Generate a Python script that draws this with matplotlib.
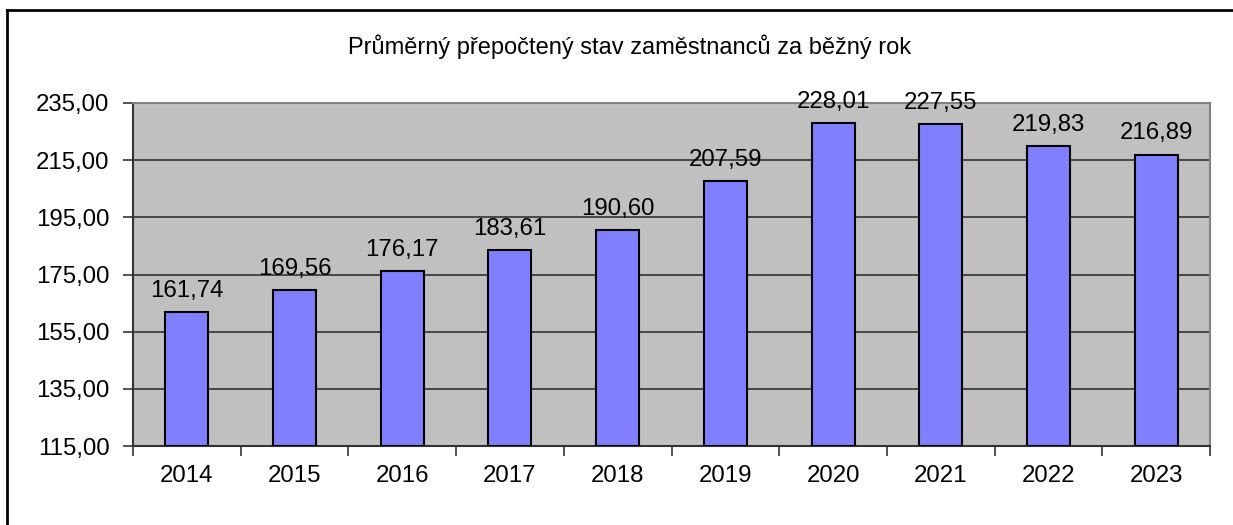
import matplotlib
matplotlib.use("Agg")
import matplotlib.pyplot as plt
from matplotlib.lines import Line2D

years = ["2014", "2015", "2016", "2017", "2018", "2019", "2020", "2021", "2022", "2023"]
values = [161.74, 169.56, 176.17, 183.61, 190.60, 207.59, 228.01, 227.55, 219.83, 216.89]
title = "Průměrný přepočtený stav zaměstnanců za běžný rok"
yticks = [115, 135, 155, 175, 195, 215, 235]

plt.rcParams['font.family'] = ['Liberation Sans', 'DejaVu Sans']

W, H = 1233, 525
fig = plt.figure(figsize=(W/100, H/100), dpi=100)
ax = fig.add_axes([133/W, 1-446/H, (1210-133)/W, (446-103)/H])

FS = 17.3
x = list(range(len(years)))
ax.set_facecolor('#C0C0C0')
ax.bar(x, [v - 115 for v in values], bottom=115, width=0.4, color='#8080FF',
       edgecolor='black', linewidth=1.5, zorder=3)
for xi, v in zip(x, values):
    ax.text(xi, v + 3.6, f"{v:.2f}".replace('.', ','), ha='center', va='bottom',
            fontsize=FS, color='black', zorder=4, clip_on=False)

ax.set_xlim(-0.5, len(years) - 0.5)
ax.set_ylim(115, 235)
ax.set_yticks(yticks)
ax.set_yticklabels([f"{t:.2f}".replace('.', ',') for t in yticks], fontsize=FS)
ax.yaxis.grid(True, color='#333333', linewidth=1.2, zorder=1)
ax.set_axisbelow(True)

ax.set_xticks(x)
ax.set_xticklabels(years, fontsize=FS)
ax.tick_params(axis='x', length=0, pad=14)
ax.set_xticks([i - 0.5 for i in range(len(years) + 1)], minor=True)
ax.tick_params(axis='x', which='minor', length=7, width=1.2, color='#333333')
ax.tick_params(axis='y', length=7, width=1.2, color='#333333', pad=10)

for s in ['top', 'right']:
    ax.spines[s].set_color('#808080')
    ax.spines[s].set_linewidth(1.5)
for s in ['left', 'bottom']:
    ax.spines[s].set_color('#333333')
    ax.spines[s].set_linewidth(1.5)

fig.text(630/W, 1-47/H, title, ha='center', va='center', fontsize=17)

fig.lines.append(Line2D([7/W, 7/W], [-0.05, 1-9.5/H], transform=fig.transFigure,
                        color='black', linewidth=2, solid_capstyle='projecting'))
fig.lines.append(Line2D([7/W, 1.05], [1-9.5/H, 1-9.5/H], transform=fig.transFigure,
                        color='black', linewidth=2, solid_capstyle='projecting'))

fig.savefig("out.png", dpi=100)
